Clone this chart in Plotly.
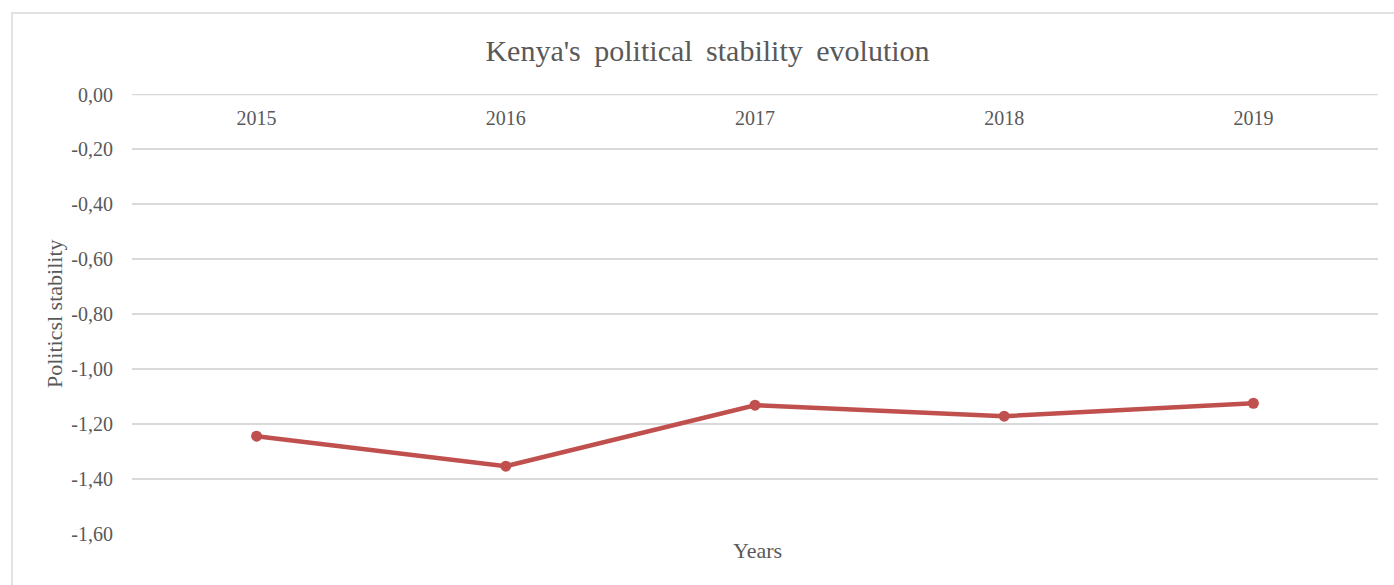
import plotly.graph_objects as go

years = ["2015", "2016", "2017", "2018", "2019"]
stability = [-1.244, -1.353, -1.131, -1.171, -1.124]
y_ticks = [0.0, -0.2, -0.4, -0.6, -0.8, -1.0, -1.2, -1.4, -1.6]
y_tick_labels = ["0,00", "-0,20", "-0,40", "-0,60", "-0,80",
                 "-1,00", "-1,20", "-1,40", "-1,60"]

FONT = "Liberation Serif"
GREY = "#595959"

fig = go.Figure()
fig.add_trace(go.Scatter(
    x=years, y=stability, mode="lines+markers",
    line=dict(color="#C0504D", width=4.5),
    marker=dict(color="#C0504D", size=11),
    showlegend=False, cliponaxis=False,
))

L, R, T, B = 132, 16, 94, 51
W, H = 1394, 585
pw, ph = W - L - R, H - T - B

def px_x(x):
    return (x - L) / pw

def px_y(y):
    return 1 - (y - T) / ph

fig.update_layout(
    width=W, height=H,
    margin=dict(l=L, r=R, t=T, b=B, autoexpand=False),
    paper_bgcolor="white", plot_bgcolor="white",
    font=dict(family=FONT, color=GREY, size=20),
    title=dict(text="Kenya's\u2009 political\u2009 stability\u2009 evolution",
               x=707.5 / W, xref="container",
               y=1 - 50 / H, yref="container", xanchor="center", yanchor="middle",
               font=dict(family=FONT, size=30, color=GREY)),
    xaxis=dict(anchor="free", position=px_y(104), side="bottom",
               showgrid=False, showline=False, ticks="", range=[-0.5, 4.5],
               automargin=False, zeroline=False,
               tickfont=dict(size=20, color=GREY)),
    yaxis=dict(range=[-1.6, 0.002], tickvals=y_ticks, ticktext=y_tick_labels,
               showgrid=True, gridcolor="#D9D9D9", gridwidth=1.5,
               zeroline=False, showline=False, ticks="",
               ticklabelstandoff=18, automargin=False,
               tickfont=dict(size=20, color=GREY)),
    shapes=[
        dict(type="rect", xref="paper", yref="paper",
             x0=px_x(12), x1=px_x(1400), y0=px_y(600), y1=px_y(13),
             line=dict(color="#D9D9D9", width=1.5), layer="below"),
        dict(type="line", xref="paper", yref="y", x0=0, x1=1,
             y0=y_ticks[0], y1=y_ticks[0],
             line=dict(color="#D9D9D9", width=1.5), layer="below"),
    ],
    annotations=[
        dict(text="Years", xref="paper", yref="paper",
             x=px_x(757), y=px_y(550), showarrow=False,
             xanchor="center", yanchor="middle",
             font=dict(size=22, color=GREY)),
        dict(text="Politicsl stability", xref="paper", yref="paper",
             x=px_x(54), y=px_y(313), showarrow=False, textangle=-90,
             xanchor="center", yanchor="middle",
             font=dict(size=22, color=GREY)),
    ],
)

fig.write_html("out.html", config={"displayModeBar": False},
               post_script="document.body.style.margin='0';")
